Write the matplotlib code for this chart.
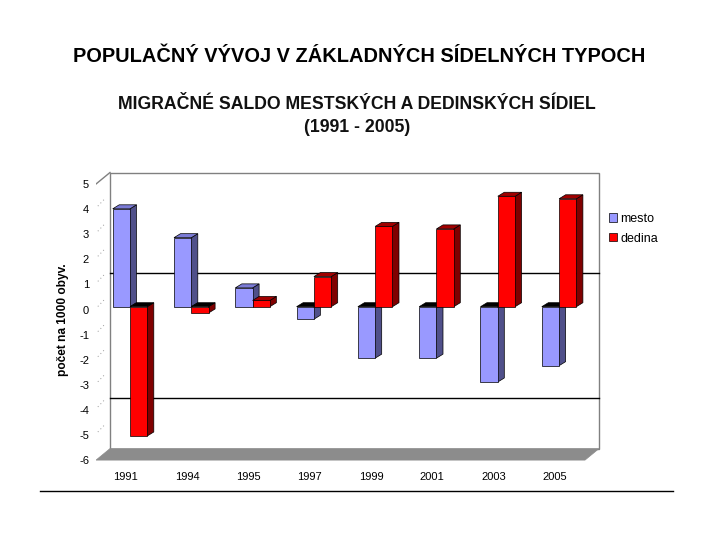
import numpy as np
import matplotlib
matplotlib.use('Agg')
import matplotlib.pyplot as plt
from matplotlib.patches import Polygon, Patch

plt.rcParams['font.family'] = ['Liberation Sans', 'DejaVu Sans']

# data
years = ['1991', '1994', '1995', '1997', '1999', '2001', '2003', '2005']
mesto = [3.9, 2.75, 0.75, -0.5, -2.05, -2.05, -3.0, -2.35]
dedina = [-5.15, -0.25, 0.25, 1.2, 3.2, 3.1, 4.4, 4.3]
grid_vals = [1, -4]

c_mesto = ('#9999FF', '#50508A', '#7B7BD6')   # front, side, top
c_dedina = ('#FF0000', '#800000', '#A00000')

W, H = 720, 540
fig = plt.figure(figsize=(7.2, 5.4), dpi=100)

# plot region in pixels
L, R, T, B = 96, 602, 170, 461
ax = fig.add_axes([L / W, 1 - B / H, (R - L) / W, (B - T) / H])
px_cat = 61.3
x0 = 130
px_unit = 25.1
y0 = 309.5
ax.set_xlim((L - x0) / px_cat, (R - x0) / px_cat)
ax.set_ylim((y0 - B) / px_unit, (y0 - T) / px_unit)

# 3d offsets (data units)
dxw, dyw = 14 / px_cat, 11.5 / px_unit     # wall depth
ddx, ddy = 6.5 / px_cat, 4 / px_unit       # bar depth
base = 2.8 / px_unit
bw = 17.3 / px_cat

xl = (L - x0) / px_cat
xr = (585 - x0) / px_cat

# back wall
ax.add_patch(Polygon([(xl + dxw, -6 + dyw), (xr + dxw, -6 + dyw), (xr + dxw, 5 + dyw),
                      (xl + dxw, 5 + dyw)], closed=True, facecolor='white',
                     edgecolor='#808080', lw=1, zorder=1))
# side wall top edge
ax.plot([xl, xl + dxw], [5, 5 + dyw], color='#808080', lw=1, zorder=1)
# side wall tick marks
for t in range(-5, 5):
    ax.plot([xl + 0.03, xl + dxw * 0.6], [t + 0.12, t + dyw * 0.6 + 0.12], color='#999999',
            lw=0.7, ls=(0, (1, 3)), zorder=1)
# floor
ax.add_patch(Polygon([(xl, -6), (xr, -6), (xr + dxw, -6 + dyw), (xl + dxw, -6 + dyw)],
                     closed=True, facecolor='#8C8C8C', edgecolor='#8C8C8C', lw=0.5, zorder=2))
# back wall gridlines
for g in grid_vals:
    ax.plot([xl + dxw, xr + dxw], [g + dyw, g + dyw], color='black', lw=1, zorder=2)

x = np.arange(len(years))


def bar3d(xs, vals, cols, z):
    bars = ax.bar(xs, vals, width=bw, bottom=base, align='edge', color=cols[0],
                  edgecolor='black', lw=0.5, zorder=z + 0.2)
    for b in bars:
        bx, by = b.get_x(), b.get_y()
        h = b.get_height()
        top = by + max(h, 0)
        ax.add_patch(Polygon([(bx + bw, by), (bx + bw, by + h), (bx + bw + ddx, by + h + ddy),
                              (bx + bw + ddx, by + ddy)], closed=True, facecolor=cols[1],
                             edgecolor='black', lw=0.5, zorder=z))
        ax.add_patch(Polygon([(bx, top), (bx + bw, top), (bx + bw + ddx, top + ddy),
                              (bx + ddx, top + ddy)], closed=True,
                             facecolor=cols[2] if h > 0 else 'black',
                             edgecolor='black', lw=0.5, zorder=z + 0.1))


for i in range(len(years)):
    bar3d([x[i] - bw], [mesto[i]], c_mesto, 3 + i)
    bar3d([x[i]], [dedina[i]], c_dedina, 3.5 + i)

ax.set_yticks(range(-6, 6))
ax.set_yticklabels([str(v) for v in range(-6, 6)], fontsize=8)
ax.set_xticks(x - 0.07)
ax.set_xticklabels(years, fontsize=8)
ax.tick_params(axis='y', length=0, pad=5)
ax.tick_params(axis='x', length=0, pad=8)
for s in ax.spines.values():
    s.set_visible(False)

fig.text(63 / W, 1 - 320 / H, 'počet na 1000 obyv.', rotation=90, fontsize=8.6,
         fontweight='bold', ha='center', va='center')

handles = [Patch(facecolor=c_mesto[0], edgecolor='black', lw=0.5, label='mesto'),
           Patch(facecolor=c_dedina[0], edgecolor='black', lw=0.5, label='dedina')]
fig.legend(handles=handles, loc='upper left', bbox_to_anchor=(604 / W, 1 - 208 / H),
           frameon=False, fontsize=9, handlelength=0.65, handleheight=0.65,
           handletextpad=0.25, labelspacing=0.6, borderaxespad=0)

fig.text(359 / W, 1 - 57 / H, 'POPULAČNÝ VÝVOJ V ZÁKLADNÝCH SÍDELNÝCH TYPOCH', fontsize=14.4,
         fontweight='bold', ha='center', va='center')
fig.text(357 / W, 1 - 104 / H, 'MIGRAČNÉ SALDO MESTSKÝCH A DEDINSKÝCH SÍDIEL', fontsize=12.7,
         fontweight='bold', ha='center', va='center', color='#111111')
fig.text(357 / W, 1 - 128 / H, '(1991 - 2005)', fontsize=12.7,
         fontweight='bold', ha='center', va='center', color='#111111')

fig.add_artist(plt.Line2D([40 / W, 673 / W], [1 - 491 / H, 1 - 491 / H], color='black', lw=1))

fig.savefig('out.png', dpi=100)
